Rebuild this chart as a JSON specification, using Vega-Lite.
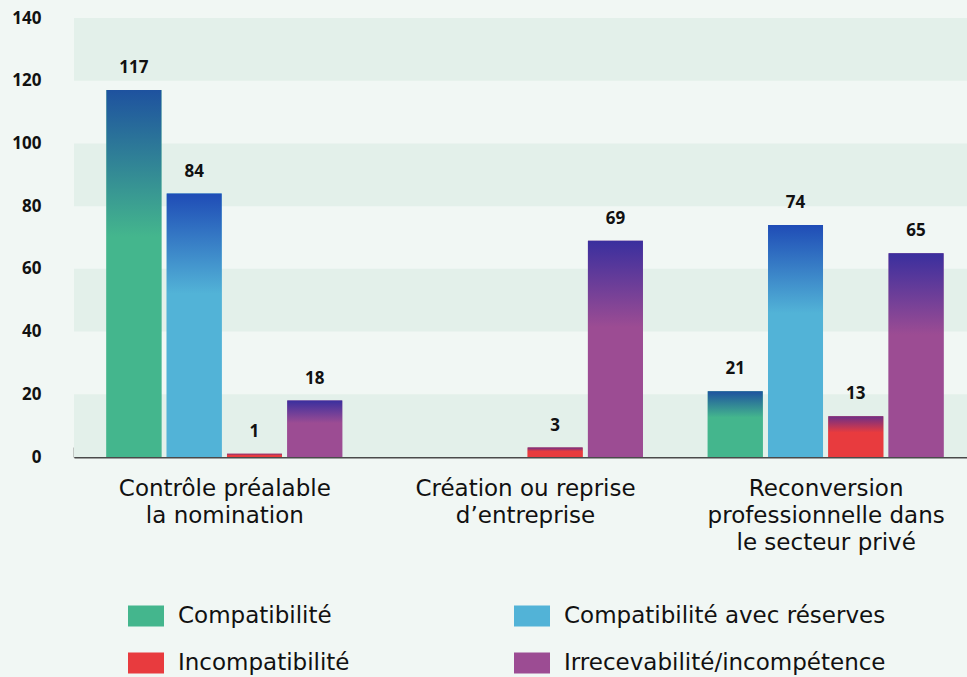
{
  "$schema": "https://vega.github.io/schema/vega-lite/v6.json",
  "autosize": {"type": "none"},
  "padding": {"left": 74, "top": 18, "right": 0, "bottom": 220},
  "width": 893,
  "height": 439,
  "background": "#f1f7f4",
  "config": {
    "view": {"stroke": null},
    "font": "Open Sans"
  },
  "datasets": {
    "bands": [
      {"lo": 0, "hi": 20},
      {"lo": 40, "hi": 60},
      {"lo": 80, "hi": 100},
      {"lo": 120, "hi": 140}
    ],
    "avis": [
      {"categorie": "Contrôle préalable|la nomination", "avis": "Compatibilité", "nombre": 117},
      {"categorie": "Contrôle préalable|la nomination", "avis": "Compatibilité avec réserves", "nombre": 84},
      {"categorie": "Contrôle préalable|la nomination", "avis": "Incompatibilité", "nombre": 1},
      {"categorie": "Contrôle préalable|la nomination", "avis": "Irrecevabilité/incompétence", "nombre": 18},
      {"categorie": "Création ou reprise|d’entreprise", "avis": "Compatibilité", "nombre": 0},
      {"categorie": "Création ou reprise|d’entreprise", "avis": "Compatibilité avec réserves", "nombre": 0},
      {"categorie": "Création ou reprise|d’entreprise", "avis": "Incompatibilité", "nombre": 3},
      {"categorie": "Création ou reprise|d’entreprise", "avis": "Irrecevabilité/incompétence", "nombre": 69},
      {"categorie": "Reconversion|professionnelle dans|le secteur privé", "avis": "Compatibilité", "nombre": 21},
      {"categorie": "Reconversion|professionnelle dans|le secteur privé", "avis": "Compatibilité avec réserves", "nombre": 74},
      {"categorie": "Reconversion|professionnelle dans|le secteur privé", "avis": "Incompatibilité", "nombre": 13},
      {"categorie": "Reconversion|professionnelle dans|le secteur privé", "avis": "Irrecevabilité/incompétence", "nombre": 65}
    ]
  },
  "layer": [
    {
      "data": {"name": "bands"},
      "mark": {"type": "rect", "fill": "#e3f0ea"},
      "encoding": {
        "y": {"field": "lo", "type": "quantitative", "scale": {"domain": [0, 140]}},
        "y2": {"field": "hi"}
      }
    },
    {
      "data": {"name": "avis"},
      "layer": [
        {
          "mark": {"type": "bar"},
          "encoding": {
            "color": {
              "field": "avis",
              "type": "nominal",
              "scale": {
                "domain": ["Compatibilité", "Compatibilité avec réserves", "Incompatibilité", "Irrecevabilité/incompétence"],
                "range": ["#44b68d", "#52b3d7", "#e83b3e", "#9c4c93"]
              },
              "legend": {
                "title": null,
                "orient": "none",
                "legendX": 54,
                "legendY": 580,
                "direction": "horizontal",
                "columns": 2,
                "padding": 0,
                "columnPadding": 164,
                "rowPadding": 17,
                "symbolType": "M-1,-0.58H1V0.58H-1Z",
                "symbolSize": 1296,
                "symbolStrokeWidth": 0,
                "symbolOpacity": 1,
                "labelFont": "DejaVu Sans",
                "labelFontSize": 23,
                "labelColor": "#111111",
                "labelOffset": 14,
                "labelLimit": 500
              }
            }
          }
        },
        {
          "transform": [{"filter": "datum.avis == 'Compatibilité'"}],
          "mark": {"type": "bar", "color": {"gradient": "linear", "x1": 0, "y1": 0, "x2": 0, "y2": 1, "stops": [{"offset": 0, "color": "#1e529f"}, {"offset": 0.4, "color": "#44b68d"}, {"offset": 1, "color": "#44b68d"}]}}
        },
        {
          "transform": [{"filter": "datum.avis == 'Compatibilité avec réserves'"}],
          "mark": {"type": "bar", "color": {"gradient": "linear", "x1": 0, "y1": 0, "x2": 0, "y2": 1, "stops": [{"offset": 0, "color": "#1f4cb6"}, {"offset": 0.38, "color": "#52b3d7"}, {"offset": 1, "color": "#52b3d7"}]}}
        },
        {
          "transform": [{"filter": "datum.avis == 'Incompatibilité'"}],
          "mark": {"type": "bar", "color": {"gradient": "linear", "x1": 0, "y1": 0, "x2": 0, "y2": 1, "stops": [{"offset": 0, "color": "#6c2f88"}, {"offset": 0.4, "color": "#e83b3e"}, {"offset": 1, "color": "#e83b3e"}]}}
        },
        {
          "transform": [{"filter": "datum.avis == 'Irrecevabilité/incompétence'"}],
          "mark": {"type": "bar", "color": {"gradient": "linear", "x1": 0, "y1": 0, "x2": 0, "y2": 1, "stops": [{"offset": 0, "color": "#3a2f9e"}, {"offset": 0.4, "color": "#9c4c93"}, {"offset": 1, "color": "#9c4c93"}]}}
        },
        {
          "transform": [{"filter": "datum.nombre > 0"}],
          "mark": {"type": "text", "fontWeight": "bold", "fontSize": 17, "color": "#111111", "baseline": "alphabetic", "dy": -17},
          "encoding": {"text": {"field": "nombre", "type": "quantitative"}}
        }
      ],
      "encoding": {
        "x": {
          "field": "categorie",
          "type": "nominal",
          "sort": null,
          "scale": {"range": [0, 902], "paddingInner": 0, "paddingOuter": 0},
          "axis": {
            "title": null,
            "labelAngle": 0,
            "labelExpr": "split(datum.label, '|')",
            "labelFont": "DejaVu Sans",
            "labelFontSize": 23,
            "labelLineHeight": 27,
            "labelColor": "#111111",
            "labelPadding": 30,
            "labelLimit": 400,
            "tickBand": "extent",
            "tickSize": -10,
            "tickColor": "#333333",
            "tickWidth": 1.5,
            "domainColor": "#4a4a4a",
            "domainWidth": 2
          }
        },
        "xOffset": {
          "field": "avis",
          "type": "nominal",
          "scale": {
            "domain": ["Compatibilité", "Compatibilité avec réserves", "Incompatibilité", "Irrecevabilité/incompétence"],
            "paddingInner": 0.088,
            "paddingOuter": 0.538
          }
        },
        "y": {
          "field": "nombre",
          "type": "quantitative",
          "scale": {"domain": [0, 140]},
          "axis": {
            "title": null,
            "values": [0, 20, 40, 60, 80, 100, 120, 140],
            "grid": false,
            "ticks": false,
            "domain": false,
            "labelPadding": 33,
            "labelFontSize": 17,
            "labelFontWeight": "bold",
            "labelColor": "#111111"
          }
        }
      }
    }
  ]
}
